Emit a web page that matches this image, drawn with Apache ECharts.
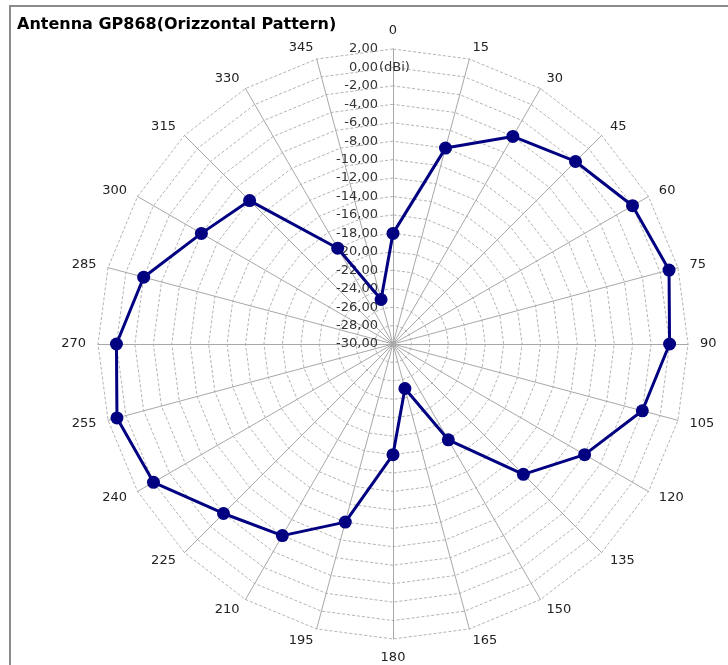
<!DOCTYPE html>
<html>
<head>
<meta charset="utf-8">
<script src="https://cdn.jsdelivr.net/npm/echarts@6/dist/echarts.min.js"></script>
<style>
html,body{margin:0;padding:0;background:#fff;}
#main{width:728px;height:665px;}
</style>
</head>
<body>
<div id="main"></div>
<script>
// Data (clockwise from 0°)
const angles = ['0','15','30','45','60','75','90','105','120','135','150','165','180','195','210','225','240','255','270','285','300','315','330','345'];
const gain = [-18, -8, -4, -2, 0, 1, 0, -2, -6, -10, -18, -25, -18, -10, -6, -4, 0, 1, 0, -2, -6, -8, -18, -25];
const axisMin = -30;
const axisMax = 2;
const title = 'Antenna GP868(Orizzontal Pattern)';
const unit = '(dBi)';

// ECharts radar goes counter-clockwise; reorder so angles run clockwise
const order = angles.map((_, i) => (angles.length - i) % angles.length);
const indicator = order.map((idx, k) => ({
  name: angles[idx],
  min: axisMin,
  max: axisMax,
  axisLabel: k === 0 ? { show: true } : { show: false }
}));
const values = order.map(idx => gain[idx]);

const chart = echarts.init(document.getElementById('main'));
const cx = 393, cy = 344, R = 295;
chart.setOption({
  backgroundColor: '#fff',
  animation: false,
  title: {
    text: title,
    left: 12, top: 12,
    textStyle: { fontFamily: 'DejaVu Sans', fontWeight: 'bold', fontSize: 16, color: '#000' }
  },
  graphic: [
    { type: 'rect', shape: { x: 10, y: 6, width: 730, height: 670 }, style: { fill: 'none', stroke: '#8c8c8c', lineWidth: 2 }, silent: true },
    { type: 'text', x: 379, y: cy - (0 - axisMin) / (axisMax - axisMin) * R, style: { text: unit, fontFamily: 'DejaVu Sans', fontSize: 13, fill: '#333', verticalAlign: 'middle', align: 'left' }, z: 10 }
  ],
  radar: {
    center: [cx, cy],
    radius: R,
    startAngle: 90,
    shape: 'polygon',
    splitNumber: 16,
    indicator: indicator,
    axisName: { color: '#222', fontFamily: 'DejaVu Sans', fontSize: 13 },
    nameGap: 12,
    axisLine: { lineStyle: { color: '#a8a8a8', width: 1 } },
    splitLine: { lineStyle: { color: '#b4b4b4', width: 1, type: [3, 2] } },
    splitArea: { show: false },
    axisTick: { show: false },
    axisLabel: {
      show: false,
      margin: 15,
      fontFamily: 'DejaVu Sans', fontSize: 13, color: '#333',
      formatter: v => v.toFixed(2).replace('.', ',')
    }
  },
  series: [{
    type: 'radar',
    symbol: 'circle',
    symbolSize: 13,
    lineStyle: { color: '#000080', width: 3 },
    itemStyle: { color: '#000080' },
    data: [{ value: values }]
  }]
});
</script>
</body>
</html>
